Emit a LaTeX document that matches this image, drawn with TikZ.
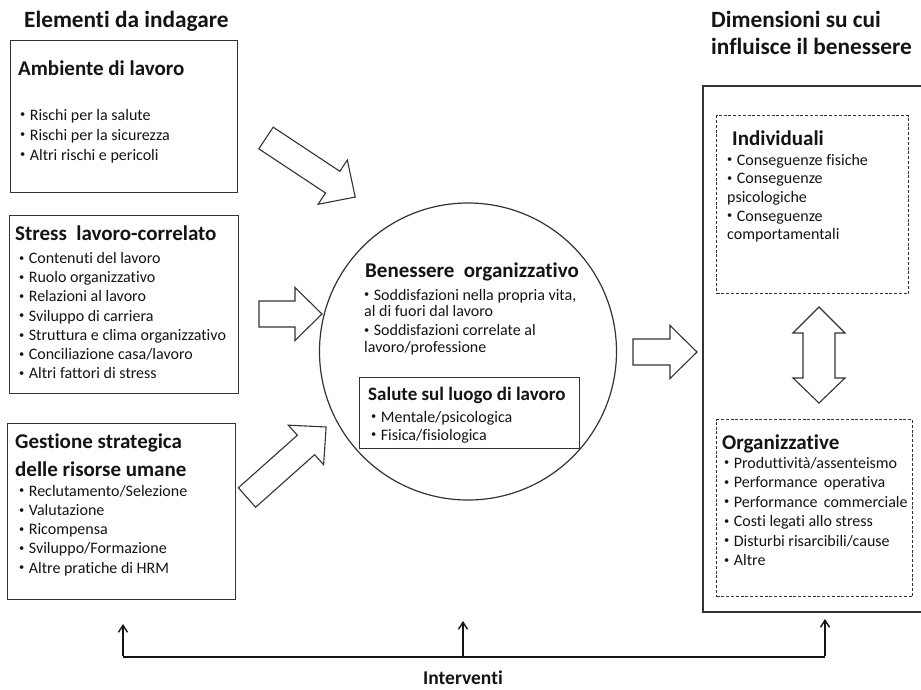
\documentclass[tikz,border=0pt]{standalone}
\usepackage{fontspec}
\setmainfont{Carlito}[Ligatures={NoCommon}]
\usetikzlibrary{arrows.meta}
\definecolor{ink}{HTML}{141414}
\definecolor{edge}{HTML}{333333}
\newcommand\bul{\raisebox{0.3ex}{\scalebox{0.65}{\textbullet}}\hspace{0.28em}}
\newcommand\ttl{\fontsize{21}{27.6}\bfseries\selectfont}
\newcommand\hdr{\fontsize{23.3}{26.5}\bfseries\selectfont}
\newcommand\lst[2]{\parbox[t]{215pt}{\fontsize{16}{#1}\selectfont\raggedright #2}}
\begin{document}
\begin{tikzpicture}[x=1pt,y=-1pt,
  box/.style={draw=edge,line width=1.3pt,inner sep=0pt,anchor=north west},
  dbox/.style={draw=edge,line width=1pt,dash pattern=on 3pt off 1.8pt,inner sep=0pt,anchor=north west},
  txt/.style={anchor=base west,inner sep=0pt,text=ink},
  barrow/.style={draw=edge,line width=1.1pt,fill=white,line join=miter},
  bus/.style={line width=2.6pt,draw=ink},
  tip/.style={-{Straight Barb[length=7pt,width=9pt,line width=1.4pt]}},
  pics/blockarrow/.style={code={\draw[barrow] (0,-13) -- (#1-27,-13) -- (#1-27,-26.5) -- (#1,0) -- (#1-27,26.5) -- (#1-27,13) -- (0,13) -- cycle;}}
]
\useasboundingbox (0,0) rectangle (921,689);
\fill[white] (0,0) rectangle (921,689);

% headers
\node[txt] (h1) at (24,27) {\hdr Elementi da indagare};
\node[txt] (h2) at (711,27.5) {\parbox[t]{215pt}{\hdr Dimensioni su cui\\influisce il benessere}};

% left boxes
\node[box,minimum width=227pt,minimum height=152pt] (b1) at (10,40) {};
\node[txt] (b1t) at (18,75) {\ttl Ambiente di lavoro};
\node[txt] (b1l) at (20,120) {\lst{20}{\bul Rischi per la salute\\\bul Rischi per la sicurezza\\\bul Altri rischi e pericoli}};

\node[box,minimum width=229pt,minimum height=178pt] (b2) at (8.5,215) {};
\node[txt] (b2t) at (15,240) {\ttl Stress\hskip0.45em lavoro-correlato};
\node[txt] (b2l) at (19,263.3) {\lst{19.25}{\bul Contenuti del lavoro\\\bul Ruolo organizzativo\\\bul Relazioni al lavoro\\\bul Sviluppo di carriera\\\bul Struttura e clima organizzativo\\\bul Conciliazione casa/lavoro\\\bul Altri fattori di stress}};

\node[box,minimum width=228pt,minimum height=175.5pt] (b3) at (7,423) {};
\node[txt] (b3t) at (15,448.7) {\parbox[t]{215pt}{\ttl Gestione strategica\\delle risorse umane}};
\node[txt] (b3l) at (19,496) {\lst{19.3}{\bul Reclutamento/Selezione\\\bul Valutazione\\\bul Ricompensa\\\bul Sviluppo/Formazione\\\bul Altre pratiche di HRM}};

% central circle
\node[draw=edge,line width=1.2pt,circle,minimum size=297pt,inner sep=0pt] (ben) at (468,351.5) {};
\node[txt] (bent) at (365,277) {\ttl Benessere\hskip0.45em organizzativo};
\node[txt] (benl1) at (364,300) {\lst{16.3}{\bul Soddisfazioni nella propria vita,\\al di fuori dal lavoro}};
\node[txt] (benl2) at (364,335.5) {\lst{16.5}{\bul Soddisfazioni correlate al\\lavoro/professione}};
\node[box,minimum width=220pt,minimum height=71pt] (sal) at (359,377) {};
\node[txt] (salt) at (368,400.5) {\fontsize{19}{22}\bfseries\selectfont Salute sul luogo di lavoro};
\node[txt] (sall) at (371,422) {\lst{18}{\bul Mentale/psicologica\\\bul Fisica/fisiologica}};

% block arrows
\pic[rotate=-33.5] at (266,138) {blockarrow=107};
\pic at (259,314) {blockarrow=63};
\pic[rotate=41.7] at (247,497.5) {blockarrow=106};
\pic at (633,352) {blockarrow=64};

% right side
\draw[draw=edge,line width=1.3pt] (925,86) -- (703,86) -- (703,612) -- (925,612);
\coordinate (rb) at (703,86);
\node[dbox,minimum width=192pt,minimum height=178pt] (ind) at (716,115) {};
\node[txt] (indt) at (732,145) {\ttl Individuali};
\node[txt] (indl) at (727,165) {\lst{18.7}{\bul Conseguenze fisiche\\\bul Conseguenze\\psicologiche\\\bul Conseguenze\\comportamentali}};
\node[dbox,minimum width=196pt,minimum height=177pt] (org) at (716,419) {};
\node[txt] (orgt) at (722,449) {\ttl Organizzative};
\node[txt] (orgl) at (724,468) {\lst{19.5}{\bul Produttività/assenteismo\\\bul Performance\hskip0.4em operativa\\\bul Performance\hskip0.4em commerciale\\\bul Costi legati allo stress\\\bul Disturbi risarcibili/cause\\\bul Altre}};
\draw[barrow] (819,307) -- (845,333) -- (835,333) -- (835,378) -- (845,378) -- (819,403)
  -- (793,378) -- (803,378) -- (803,333) -- (793,333) -- cycle;

% interventions
\coordinate (t1) at (123,624);
\coordinate (t2) at (463,621);
\coordinate (t3) at (825,619);
\coordinate (c1) at (123,657);
\coordinate (c2) at (463,657);
\coordinate (c3) at (825,657);
\draw[bus,line join=miter] (c1) -- (c3);
\draw[bus,tip] ([yshift=1.3pt]c1) -- (t1);
\draw[bus,tip] (c2) -- (t2);
\draw[bus,tip] ([yshift=1.3pt]c3) -- (t3);
\node[inner sep=0pt,text=ink] (int) at (463,677.5) {\fontsize{19.5}{23}\bfseries\selectfont Interventi};
\end{tikzpicture}
\end{document}
